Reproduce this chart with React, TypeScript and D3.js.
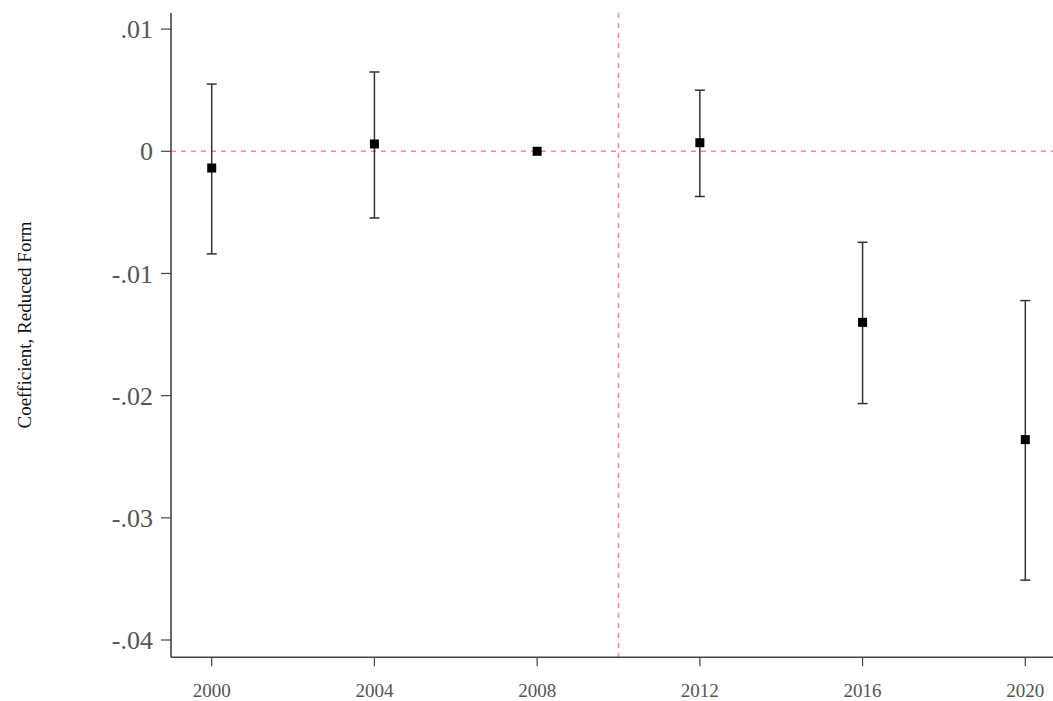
import React from "react";
import * as d3 from "d3";

// Event-study estimates by election year
const years = [2000, 2004, 2008, 2012, 2016, 2020];
const coef = [-0.00137, 0.0006, 0, 0.0007, -0.0140, -0.0236];
const ciLow: (number | null)[] = [-0.0084, -0.00546, null, -0.0037, -0.02065, -0.0351];
const ciHigh: (number | null)[] = [0.0055, 0.00649, null, 0.005, -0.00745, -0.01222];

const yTicks = [0.01, 0, -0.01, -0.02, -0.03, -0.04];
const yTickLabels = [".01", "0", "-.01", "-.02", "-.03", "-.04"];
const xTicks = [2000, 2004, 2008, 2012, 2016, 2020];
const treatmentYear = 2010;
const yTitle = "Coefficient, Reduced Form";

const W = 1053;
const H = 701;
const axisX = 171;
const axisY = 657.3;
const axisTop = 13;

export default function App() {
  const x = d3.scaleLinear().domain([2000, 2020]).range([211.7, 1025.3]);
  const y = d3.scaleLinear().domain([-0.04, 0.01]).range([640, 29.1]);

  const serif = "'Liberation Serif', 'Times New Roman', serif";
  const refColor = "#ee6fae";
  const axisColor = "#444";
  const labelColor = "#555";

  return (
    <svg
      width={W}
      height={H}
      style={{ position: "absolute", left: 0, top: 0, background: "#fff" }}
    >
      {/* reference lines */}
      <line
        x1={axisX}
        x2={W}
        y1={y(0)}
        y2={y(0)}
        stroke={refColor}
        strokeOpacity={0.85}
        strokeWidth={1.5}
        strokeDasharray="5,5"
      />
      <line
        x1={x(treatmentYear)}
        x2={x(treatmentYear)}
        y1={axisTop}
        y2={axisY}
        stroke={refColor}
        strokeOpacity={0.85}
        strokeWidth={1.5}
        strokeDasharray="5,5"
      />

      {/* y axis */}
      <line x1={axisX} x2={axisX} y1={axisTop} y2={axisY} stroke={axisColor} strokeWidth={1.6} />
      {yTicks.map((t, i) => (
        <g key={"yt" + i}>
          <line x1={axisX - 10} x2={axisX} y1={y(t)} y2={y(t)} stroke={axisColor} strokeWidth={1.2} />
          <text
            x={axisX - 18}
            y={y(t)}
            dy="0.35em"
            textAnchor="end"
            fontFamily={serif}
            fontSize={26}
            fill={labelColor}
          >
            {yTickLabels[i]}
          </text>
        </g>
      ))}

      {/* x axis */}
      <line x1={axisX} x2={W} y1={axisY} y2={axisY} stroke={axisColor} strokeWidth={1.6} />
      {xTicks.map((t) => (
        <g key={"xt" + t}>
          <line x1={x(t)} x2={x(t)} y1={axisY} y2={axisY + 9} stroke={axisColor} strokeWidth={1.2} />
          <text
            x={x(t)}
            y={697}
            textAnchor="middle"
            fontFamily={serif}
            fontSize={19}
            fill={labelColor}
          >
            {t}
          </text>
        </g>
      ))}

      {/* axis title */}
      <text
        transform={`translate(31, 325) rotate(-90)`}
        textAnchor="middle"
        fontFamily={serif}
        fontSize={19}
        fill="#111"
      >
        {yTitle}
      </text>

      {/* confidence intervals */}
      {years.map((yr, i) => {
        const lo = ciLow[i];
        const hi = ciHigh[i];
        if (lo === null || hi === null) return null;
        const cx = x(yr);
        return (
          <g key={"ci" + yr} stroke="#333" strokeWidth={1.5}>
            <line x1={cx} x2={cx} y1={y(hi)} y2={y(lo)} />
            <line x1={cx - 5} x2={cx + 5} y1={y(hi)} y2={y(hi)} />
            <line x1={cx - 5} x2={cx + 5} y1={y(lo)} y2={y(lo)} />
          </g>
        );
      })}

      {/* point estimates */}
      {years.map((yr, i) => (
        <rect
          key={"pt" + yr}
          x={x(yr) - 4.5}
          y={y(coef[i]) - 4.5}
          width={9}
          height={9}
          fill="#000"
        />
      ))}
    </svg>
  );
}
